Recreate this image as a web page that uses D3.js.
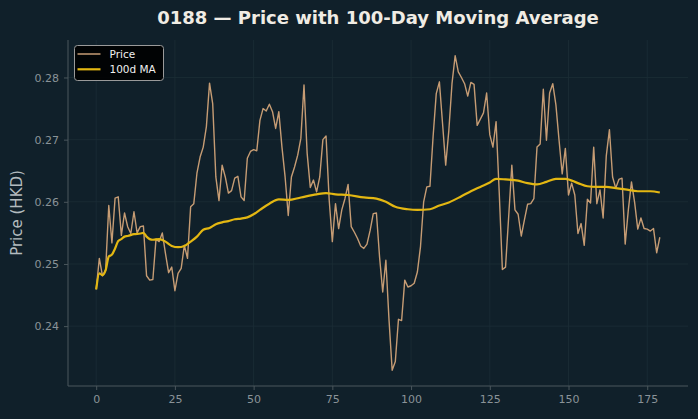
<!DOCTYPE html>
<html lang="en">
<head>
    <meta charset="UTF-8">
    <title>0188 Price with 100-Day Moving Average</title>
    <script src="https://d3js.org/d3.v7.min.js"></script>
    <style>
        html, body {
            margin: 0;
            padding: 0;
            background: #10202a;
        }
        svg {
            font-family: "DejaVu Sans", Arial, sans-serif;
            display: block;
        }
    </style>
</head>
<body>
    <script>
        // Daily closing price, one value per trading day (index 0..179)
        const price = [
            0.2459, 0.2509, 0.2481, 0.2490, 0.2594, 0.2534, 0.2606, 0.2608, 0.2546, 0.2582,
            0.2560, 0.2549, 0.2584, 0.2550, 0.2560, 0.2561, 0.2481, 0.2474, 0.2475, 0.2540,
            0.2536, 0.2550, 0.2517, 0.2486, 0.2495, 0.2457, 0.2485, 0.2493, 0.2530, 0.2509,
            0.2592, 0.2597, 0.2646, 0.2672, 0.2688, 0.2721, 0.2791, 0.2758, 0.2640, 0.2602,
            0.2659, 0.2640, 0.2614, 0.2618, 0.2638, 0.2641, 0.2608, 0.2602, 0.2670, 0.2681,
            0.2684, 0.2682, 0.2731, 0.2750, 0.2746, 0.2757, 0.2745, 0.2718, 0.2745, 0.2688,
            0.2640, 0.2578, 0.2640, 0.2656, 0.2675, 0.2702, 0.2788, 0.2678, 0.2623, 0.2635,
            0.2616, 0.2640, 0.2700, 0.2706, 0.2603, 0.2536, 0.2597, 0.2557, 0.2587, 0.2605,
            0.2628, 0.2560, 0.2551, 0.2541, 0.2529, 0.2525, 0.2532, 0.2554, 0.2581, 0.2582,
            0.2511, 0.2455, 0.2506, 0.2410, 0.2329, 0.2343, 0.2411, 0.2409, 0.2474, 0.2463,
            0.2465, 0.2469, 0.2487, 0.2528, 0.2600, 0.2624, 0.2625, 0.2705, 0.2774, 0.2793,
            0.2726, 0.2659, 0.2715, 0.2790, 0.2835, 0.2809, 0.2800, 0.2790, 0.2770, 0.2792,
            0.2789, 0.2723, 0.2733, 0.2743, 0.2775, 0.2708, 0.2688, 0.2729, 0.2615, 0.2491,
            0.2495, 0.2576, 0.2659, 0.2587, 0.2580, 0.2545, 0.2571, 0.2596, 0.2597, 0.2605,
            0.2688, 0.2693, 0.2781, 0.2699, 0.2775, 0.2790, 0.2756, 0.2699, 0.2645, 0.2686,
            0.2611, 0.2630, 0.2611, 0.2549, 0.2565, 0.2530, 0.2604, 0.2598, 0.2688, 0.2597,
            0.2619, 0.2574, 0.2674, 0.2716, 0.2640, 0.2622, 0.2636, 0.2638, 0.2532, 0.2587,
            0.2632, 0.2599, 0.2556, 0.2574, 0.2557, 0.2556, 0.2553, 0.2557, 0.2518, 0.2543
        ];

        // 100-day moving average at these day indices
        const maDay = [
            0, 1, 2, 3, 4, 5, 6, 7, 8, 9, 10, 12, 14, 15, 16, 17, 18, 20, 22, 24,
            26, 28, 30, 32, 34, 36, 38, 40, 42, 44, 46, 48, 50, 52, 55, 58, 61, 65, 70, 73,
            76, 80, 85, 89, 92, 95, 99, 102, 106, 109, 112, 116, 119, 122, 125, 127, 130, 134, 137, 140,
            143, 146, 149, 153, 156, 159, 162, 165, 168, 172, 176, 179
        ];
        const maValue = [
            0.2459, 0.2485, 0.2482, 0.2490, 0.2512, 0.2515, 0.2525, 0.2537, 0.2540, 0.2544,
            0.2545, 0.2548, 0.2549, 0.2550, 0.2544, 0.2540, 0.2539, 0.2540, 0.2536, 0.2529,
            0.2527, 0.2529, 0.2536, 0.2544, 0.2555, 0.2558, 0.2564, 0.2567, 0.2569, 0.2572,
            0.2573, 0.2575, 0.2580, 0.2587, 0.2597, 0.2604, 0.2603, 0.2607, 0.2612, 0.2614,
            0.2612, 0.2611, 0.2607, 0.2605, 0.2600, 0.2592, 0.2588, 0.2587, 0.2588, 0.2594,
            0.2599, 0.2609, 0.2617, 0.2624, 0.2631, 0.2637, 0.2636, 0.2634, 0.2630, 0.2628,
            0.2632, 0.2637, 0.2637, 0.2630, 0.2625, 0.2624, 0.2624, 0.2622, 0.2620, 0.2617,
            0.2617, 0.2615
        ];

        const xTicks = [0, 25, 50, 75, 100, 125, 150, 175];
        const yTicks = [0.24, 0.25, 0.26, 0.27, 0.28];

        const W = 698, H = 419;
        const plot = { left: 68, right: 688, top: 40, bottom: 386 };

        const bg = "#10202a";
        const gridColor = "#1c2d36";
        const axisColor = "#4a565c";
        const tickText = "#8a9398";

        const svg = d3.select("body").append("svg")
            .attr("width", W)
            .attr("height", H);

        svg.append("rect").attr("width", W).attr("height", H).attr("fill", bg);

        // scales with matplotlib-style 5% margins
        const n = price.length;
        const xPad = (n - 1) * 0.05;
        const x = d3.scaleLinear()
            .domain([-xPad, n - 1 + xPad])
            .range([plot.left, plot.right]);

        const allVals = price.concat(maValue);
        const yMin = d3.min(allVals), yMax = d3.max(allVals);
        const yPad = (yMax - yMin) * 0.05;
        const y = d3.scaleLinear()
            .domain([yMin - yPad, yMax + yPad])
            .range([plot.bottom, plot.top]);

        // grid
        const grid = svg.append("g");
        grid.selectAll(".gx").data(xTicks).join("line")
            .attr("x1", d => x(d)).attr("x2", d => x(d))
            .attr("y1", plot.top).attr("y2", plot.bottom)
            .attr("stroke", gridColor).attr("stroke-width", 0.8);
        grid.selectAll(".gy").data(yTicks).join("line")
            .attr("x1", plot.left).attr("x2", plot.right)
            .attr("y1", d => y(d)).attr("y2", d => y(d))
            .attr("stroke", gridColor).attr("stroke-width", 0.8);

        // axes
        const xAxis = svg.append("g")
            .attr("transform", `translate(0,${plot.bottom})`)
            .call(d3.axisBottom(x).tickValues(xTicks).tickSize(4).tickPadding(5).tickFormat(d3.format("d")));
        const yAxis = svg.append("g")
            .attr("transform", `translate(${plot.left},0)`)
            .call(d3.axisLeft(y).tickValues(yTicks).tickSize(4).tickPadding(5).tickFormat(d3.format(".2f")));

        [xAxis, yAxis].forEach(a => {
            a.select(".domain").attr("stroke", axisColor).attr("stroke-width", 1)
                .attr("d", a === xAxis ? `M${plot.left},0H${plot.right}` : `M0,${plot.top}V${plot.bottom}`);
            a.selectAll(".tick line").attr("stroke", axisColor);
            a.selectAll(".tick text").attr("fill", tickText)
                .attr("font-size", "11px")
                .attr("font-family", "DejaVu Sans");
        });

        // lines
        const priceLine = d3.line().x((d, i) => x(i)).y(d => y(d));
        svg.append("path")
            .datum(price)
            .attr("d", priceLine)
            .attr("fill", "none")
            .attr("stroke", "#c69c74")
            .attr("stroke-width", 1.4)
            .attr("stroke-linejoin", "round");

        const maLine = d3.line().x(d => x(d[0])).y(d => y(d[1])).curve(d3.curveMonotoneX);
        svg.append("path")
            .datum(d3.zip(maDay, maValue))
            .attr("d", maLine)
            .attr("fill", "none")
            .attr("stroke", "#e3b712")
            .attr("stroke-width", 2.2)
            .attr("stroke-linejoin", "round");

        // title + axis label
        svg.append("text")
            .attr("x", (plot.left + plot.right) / 2)
            .attr("y", 24)
            .attr("text-anchor", "middle")
            .attr("font-size", "18px")
            .attr("font-weight", "bold")
            .attr("fill", "#f0ece4")
            .text("0188 — Price with 100-Day Moving Average");

        svg.append("text")
            .attr("transform", `translate(22,${(plot.top + plot.bottom) / 2}) rotate(-90)`)
            .attr("text-anchor", "middle")
            .attr("font-size", "15px")
            .attr("fill", "#b3bbbf")
            .text("Price (HKD)");

        // legend
        const legend = svg.append("g").attr("transform", "translate(74.5,45.5)");
        legend.append("rect")
            .attr("width", 89).attr("height", 35)
            .attr("rx", 3)
            .attr("fill", "#000000").attr("fill-opacity", 0.9)
            .attr("stroke", "#9a9a9a").attr("stroke-width", 1);
        const items = [
            { label: "Price", color: "#c69c74", w: 1.5 },
            { label: "100d MA", color: "#e3b712", w: 2.2 }
        ];
        items.forEach((it, i) => {
            const cy = 8.5 + i * 15.3;
            legend.append("line")
                .attr("x1", 3).attr("x2", 26).attr("y1", cy).attr("y2", cy)
                .attr("stroke", it.color).attr("stroke-width", it.w);
            legend.append("text")
                .attr("x", 35).attr("y", cy + 3.8)
                .attr("font-size", "10.5px")
                .attr("fill", "#f0f0f0")
                .text(it.label);
        });
    </script>
</body>
</html>
